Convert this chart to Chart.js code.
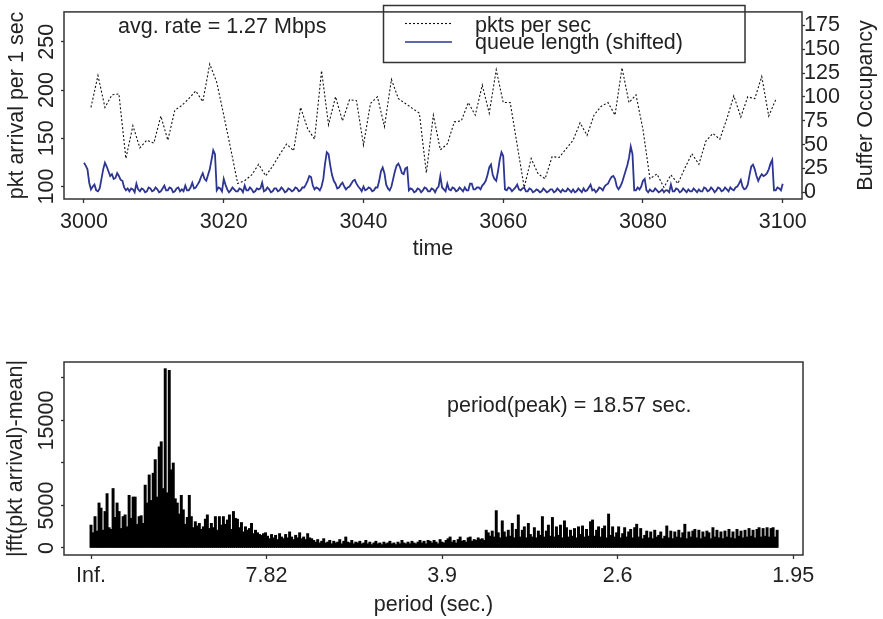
<!DOCTYPE html>
<html><head><meta charset="utf-8">
<script src="https://cdn.jsdelivr.net/npm/chart.js@4.4.1/dist/chart.umd.min.js"></script>
<style>
html,body{margin:0;padding:0;background:#fff;}
#wrap{position:relative;width:883px;height:619px;overflow:hidden;}
canvas{position:absolute;left:0;}
#c1{top:0;} #c2{top:330px;}
</style></head><body>
<div id="wrap"><canvas id="c1" width="883" height="270"></canvas><canvas id="c2" width="883" height="289"></canvas></div>
<script>
// ---------- data ----------
const pktStartTime = 3001;          // one value per second
const pktsPerSec = [
 182,215,182,195,196,129,163,140,148,145,
 173,148,179,184,191,199,188,227,208,174,
 139,103,106,112,123,111,121,133,144,137,
 182,160,149,220,164,193,168,190,189,143,
 186,193,162,211,191,186,181,176,114,174,
 138,144,167,168,187,174,205,176,221,187,
 187,143,99,129,113,108,131,130,139,148,
 166,153,174,183,187,174,223,187,195,159,
 108,113,99,112,103,119,134,123,147,155,
 149,170,194,172,193,191,214,173,190
];
const queueStartTime = 3000;        // one value per quarter second
const queueStep = 0.25;
const queueLength = [
 31,28,24,10, 3,6,8,2, 1,4,14,24, 31,27,22,17, 19,14,15,20, 17,13,12,5, 2,4,1,4, 3,0,9,3, 1,4,3,0, 1,5,4,1,
 2,5,3,0, 1,4,7,2, 2,5,4,0, 1,4,5,1, 3,1,7,2, 2,5,10,4, 5,8,11,16, 20,14,12,18, 24,34,44,40, 2,5,4,1,
 14,8,3,0, 2,5,3,1, 1,4,3,0, 7,2,2,5, 3,0,1,4, 3,4,10,1, 2,5,3,0, 1,4,4,1, 2,5,3,0, 1,4,3,1,
 2,5,4,1, 2,5,5,8, 12,17,16,7, 3,5,4,2, 6,14,30,42, 40,28,18,12, 9,4,5,8, 10,6,3,5, 6,9,12,13, 9,6,4,1,
 6,2,3,5, 4,1,2,5, 5,12,22,26, 20,8,4,2, 6,14,22,28, 30,26,20,19, 25,26,2,4, 3,0,1,4, 3,0,2,5, 4,1,1,4,
 3,0,4,6, 17,5,3,1, 9,3,2,5, 4,1,2,5, 3,1,5,2, 2,9,9,3, 3,5,5,3, 7,9,12,18, 26,29,18,14, 12,22,34,42,
 38,3,2,5, 4,1,3,5, 8,3,2,4, 5,1,1,4, 3,0,1,3, 2,0,1,4, 2,0,1,3, 3,0,1,4, 2,0,3,1, 1,4,2,0,
 3,0,1,4, 2,0,4,1, 2,5,8,2, 3,0,2,5, 4,2,6,8, 9,13,16,17, 14,6,3,6, 10,16,22,28, 36,48,40,2, 2,5,3,6,
 12,14,2,0, 3,1,1,4, 2,0,1,3, 0,2,2,0, 8,1,1,4, 3,0,1,4, 2,0,3,1, 1,4,2,0, 3,1,1,5, 4,1,2,5,
 3,0,2,5, 4,1,2,5, 3,1,5,3, 2,5,6,9, 13,6,3,4, 8,18,27,29, 24,17,12,16, 19,17,18,20, 24,30,34,2, 2,5,4,2,
 9
];
const timeTicks = [3000,3020,3040,3060,3080,3100];
const pktTicks = [100,150,200,250];
const bufferTicks = [0,25,50,75,100,125,150,175];

// |fft| magnitude per frequency bin
const fftMagnitude = [
 2700,1800,3700,2000,5300,4700,2100,4300,6400,2400,
 2200,7000,3600,5300,4300,2300,3700,3900,2500,6200,
 3500,6000,6000,2800,3700,3800,2900,7400,5300,8600,
 5600,8800,10400,6000,11900,12500,7000,21100,6500,20900,
 9200,10000,5800,5300,4000,6200,4500,2800,3600,6200,
 3700,2400,3100,2600,2900,2200,2500,3400,3900,2300,
 2900,2400,3700,2100,3700,2700,3700,2800,3300,3900,
 2200,4300,3500,3400,2400,3000,1900,2500,2100,2300,
 2900,1700,2100,1800,1600,1500,1700,1800,1400,1100,
 1600,1200,1500,1000,1700,1300,1100,1600,1200,1900,
 1300,1000,1500,1200,1800,1100,1300,1000,1700,1200,
 1100,900,700,1000,600,800,1100,600,700,900,
 500,800,600,700,1000,500,800,1300,700,600,
 900,500,700,600,800,500,600,900,500,700,
 400,600,800,500,600,400,700,500,600,800,
 500,600,400,700,500,900,600,500,700,500,
 800,600,500,700,900,600,800,500,900,800,
 600,900,700,500,1000,700,600,900,1100,1300,
 700,900,600,1000,1300,800,900,700,1200,1300,
 800,1000,900,1200,1000,1100,900,2100,1800,1400,
 2000,1300,4400,1800,1200,3200,1900,1300,2100,1400,
 2900,1200,2200,3900,1300,2100,2500,1200,2900,1600,
 1300,2400,1200,2000,1500,3700,1300,2000,2700,1400,
 3600,1300,2500,1500,2700,1200,3200,2400,1300,2100,
 1400,2300,1200,2500,1600,2600,1300,2200,1400,3100,
 3300,1400,2100,2500,1300,2300,2600,1200,4000,1500,
 2500,1300,1800,2500,1200,1700,2400,1300,1900,2200,
 1200,2400,2800,1300,2300,1100,1500,2000,1200,1900,
 1100,2100,1300,1500,1900,1100,1400,2600,1200,2000,
 1100,1900,1300,2100,1200,1800,2800,1100,1900,1300,
 2000,2200,1200,2100,1100,1900,1300,2000,1800,1100,
 2400,1300,2100,1200,1900,1100,2000,1300,2200,1200,
 1900,1100,2200,1400,2000,1200,2100,1300,2300,1400,
 2100,1200,2200,2400,1300,2300,1400,2400,1300,2300,
 2400,1300,2100
];
const periodTickPos = [0, 87.5, 175, 262.5, 350];   // frequency-bin positions
const periodTickLabels = ['Inf.','7.82','3.9','2.6','1.95'];
const fftTicks = [0,5000,10000,15000,20000];
const fftTickLabels = ['0','5000','','15000',''];

// ---------- styling ----------
const FONT_FAMILY = "'Liberation Sans', Arial, Helvetica, sans-serif";
const FONT = "21.5px " + FONT_FAMILY;
const INK = '#222';
const FRAME = '#333';
const BLUE = '#2d3593';
Chart.defaults.font.family = FONT_FAMILY;
Chart.defaults.font.size = 21.5;
Chart.defaults.color = INK;

function rotText(ctx, text, x, y) {
  ctx.save(); ctx.translate(x, y); ctx.rotate(-Math.PI/2);
  ctx.textAlign = 'center'; ctx.textBaseline = 'alphabetic';
  ctx.fillText(text, 0, 0); ctx.restore();
}
function frame(ctx, a) {
  ctx.strokeStyle = FRAME; ctx.lineWidth = 1.5;
  ctx.strokeRect(a.left, a.top, a.right - a.left, a.bottom - a.top);
}
const tickGrid = (len) => ({ display: true, drawOnChartArea: false, drawTicks: true, tickLength: len, tickColor: FRAME, tickWidth: 1.3 });

const topDecor = {
  id: 'topDecor',
  afterDraw(chart) {
    const {ctx, chartArea: a, scales} = chart;
    ctx.save();
    // legend box
    ctx.fillStyle = '#fff'; ctx.fillRect(383.5, 5.5, 361.5, 57);
    ctx.strokeStyle = FRAME; ctx.lineWidth = 1.5; ctx.strokeRect(383.5, 5.5, 361.5, 57);
    frame(ctx, a);
    const ds = chart.data.datasets;
    ctx.beginPath(); ctx.setLineDash([2,2]); ctx.strokeStyle = ds[0].borderColor; ctx.lineWidth = 1.1;
    ctx.moveTo(405, 23.5); ctx.lineTo(452, 23.5); ctx.stroke();
    ctx.beginPath(); ctx.setLineDash([]); ctx.strokeStyle = ds[1].borderColor; ctx.lineWidth = 1.5;
    ctx.moveTo(405, 42); ctx.lineTo(452, 42); ctx.stroke();
    ctx.fillStyle = INK; ctx.font = FONT; ctx.textAlign = 'left'; ctx.textBaseline = 'alphabetic';
    ctx.fillText(ds[0].label, 475, 31.5);
    ctx.fillText(ds[1].label, 475, 48.5);
    ctx.fillText('avg. rate = 1.27 Mbps', 118, 33);
    // rotated left tick labels
    scales.y.ticks.forEach(t => rotText(ctx, String(t.value), 52.5, scales.y.getPixelForValue(t.value)));
    rotText(ctx, 'pkt arrival per 1 sec', 23, (a.top + a.bottom) / 2);
    rotText(ctx, 'Buffer Occupancy', 872, (a.top + a.bottom) / 2);
    ctx.textAlign = 'center';
    ctx.fillText('time', (a.left + a.right) / 2, 255);
    ctx.restore();
  }
};

const bottomDecor = {
  id: 'bottomDecor',
  afterDraw(chart) {
    const {ctx, chartArea: a, scales} = chart;
    ctx.save();
    frame(ctx, a);
    ctx.fillStyle = INK; ctx.font = FONT;
    scales.y.ticks.forEach((t, i) => {
      const lab = fftTickLabels[i];
      if (lab) rotText(ctx, lab, 52.5, scales.y.getPixelForValue(t.value));
    });
    rotText(ctx, '|fft(pkt arrival)-mean|', 22, (a.top + a.bottom) / 2);
    ctx.textAlign = 'center'; ctx.textBaseline = 'alphabetic';
    ctx.fillText('period (sec.)', (a.left + a.right) / 2, 281);
    ctx.textAlign = 'left';
    ctx.fillText('period(peak) = 18.57 sec.', 447, 82);
    ctx.restore();
  }
};

new Chart(document.getElementById('c1'), {
  type: 'line',
  data: { datasets: [
    { label: 'pkts per sec', data: pktsPerSec.map((v, i) => ({x: pktStartTime + i, y: v})),
      yAxisID: 'y', borderColor: '#111', borderWidth: 1.1, borderDash: [2,2], pointRadius: 0, fill: false, tension: 0, order: 1 },
    { label: 'queue length (shifted)', data: queueLength.map((v, i) => ({x: queueStartTime + i * queueStep, y: v})),
      yAxisID: 'y2', borderColor: BLUE, borderWidth: 1.8, pointRadius: 0, fill: false, tension: 0, order: 0 }
  ]},
  options: {
    responsive: false, animation: false, devicePixelRatio: 1, events: [],
    layout: { padding: { top: 5, left: 0, right: 0, bottom: 0 }, autoPadding: false },
    plugins: { legend: { display: false }, tooltip: { enabled: false } },
    scales: {
      x: { type: 'linear', min: 2997.14, max: 3102.76,
           afterBuildTicks: s => { s.ticks = timeTicks.map(v => ({value: v})); },
           afterFit: s => { s.height = 71; },
           border: { display: false }, grid: tickGrid(4),
           ticks: { padding: 6, maxRotation: 0, autoSkip: false, callback: v => String(v) } },
      y: { position: 'left', min: 87, max: 281,
           afterBuildTicks: s => { s.ticks = pktTicks.map(v => ({value: v})); },
           afterFit: s => { s.width = 64; },
           border: { display: false }, grid: tickGrid(3), ticks: { display: false } },
      y2: { position: 'right', min: -7.08, max: 189.16,
           afterBuildTicks: s => { s.ticks = bufferTicks.map(v => ({value: v})); },
           afterFit: s => { s.width = 81; },
           border: { display: false }, grid: tickGrid(3),
           ticks: { padding: -1, autoSkip: false, callback: v => String(v) } }
    }
  },
  plugins: [topDecor]
});

new Chart(document.getElementById('c2'), {
  type: 'bar',
  data: { datasets: [{ label: '|fft|', data: fftMagnitude.map((v, i) => ({x: i, y: v})),
    backgroundColor: '#000', borderWidth: 0, barThickness: 2.3, grouped: false }]},
  options: {
    responsive: false, animation: false, devicePixelRatio: 1, events: [],
    layout: { padding: { top: 32, right: 80, left: 0, bottom: 0 }, autoPadding: false },
    plugins: { legend: { display: false }, tooltip: { enabled: false } },
    scales: {
      x: { type: 'linear', offset: false, min: -13.46, max: 354.9,
           afterBuildTicks: s => { s.ticks = periodTickPos.map(v => ({value: v})); },
           afterFit: s => { s.height = 64; },
           border: { display: false }, grid: Object.assign(tickGrid(4), { offset: false }),
           ticks: { padding: 4, maxRotation: 0, autoSkip: false, callback: (v, i) => periodTickLabels[i] } },
      y: { min: -824, max: 21882,
           afterBuildTicks: s => { s.ticks = fftTicks.map(v => ({value: v})); },
           afterFit: s => { s.width = 64; },
           border: { display: false }, grid: tickGrid(3), ticks: { display: false } }
    }
  },
  plugins: [bottomDecor]
});
</script>
</body></html>
